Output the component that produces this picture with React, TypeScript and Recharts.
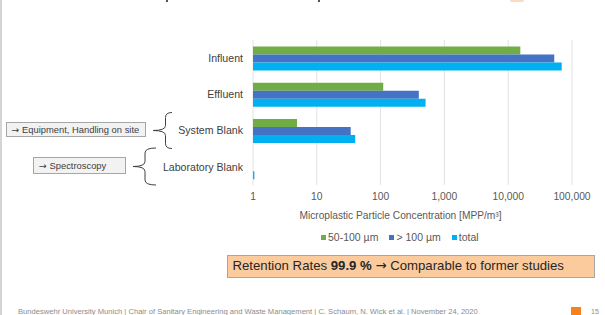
import React from 'react';
import { BarChart, Bar, XAxis, YAxis, CartesianGrid, Legend, Label } from 'recharts';

const categories = ['Influent', 'Effluent', 'System Blank', 'Laboratory Blank'];
const small = [15500, 110, 4.9, null];
const large = [52700, 397, 34, null];
const total = [69000, 507, 40, 1.05];
const tickValues = [1, 10, 100, 1000, 10000, 100000];
const seriesNames = ['50-100 µm', '> 100 µm', 'total'];
const seriesColors = ['#70ad47', '#4472c4', '#00b0f0'];

const data = categories.map((name, i) => ({
  name,
  small: small[i],
  large: large[i],
  total: total[i],
}));

const FONT = 'Liberation Sans, Arial, sans-serif';
const ARROW_FONT = 'DejaVu Sans, sans-serif';

function brace(xv: number, xt: number, xh: number, y1: number, y2: number) {
  const ym = (y1 + y2) / 2;
  const r = 5;
  return `M ${xh} ${y1} Q ${xv} ${y1} ${xv} ${y1 + r} L ${xv} ${ym - r} Q ${xv} ${ym} ${xt} ${ym} Q ${xv} ${ym} ${xv} ${ym + r} L ${xv} ${y2 - r} Q ${xv} ${y2} ${xh} ${y2}`;
}

const LegendContent = (props: any) => {
  const payload = props.payload || [];
  return (
    <div style={{ display: 'flex', alignItems: 'center', fontFamily: FONT, fontSize: 10.5, color: '#595959', whiteSpace: 'nowrap' }}>
      {payload.map((p: any, i: number) => (
        <div key={i} style={{ display: 'flex', alignItems: 'center', marginRight: 11 }}>
          <span style={{ display: 'inline-block', width: 5, height: 5, background: p.color, marginRight: 2 }} />
          <span>{p.value}</span>
        </div>
      ))}
    </div>
  );
};

const Arrow = () => <span style={{ fontFamily: ARROW_FONT }}>→</span>;

export default function App() {
  return (
    <div style={{ position: 'absolute', left: 0, top: 0, width: 605, height: 315, background: '#fff', overflow: 'hidden', fontFamily: FONT }}>
      <div style={{ position: 'absolute', left: 0, top: 0, width: 1.5, height: 315, background: '#d4d4d4' }} />
      <div style={{ position: 'absolute', left: 166, top: 0, width: 2, height: 1.5, background: '#555' }} />
      <div style={{ position: 'absolute', left: 318, top: 0, width: 2, height: 1.5, background: '#555' }} />
      <div style={{ position: 'absolute', left: 510, top: 0, width: 14, height: 2, borderRadius: '0 0 6px 6px', background: '#f8dcc0' }} />
      <div style={{ position: 'absolute', left: 0, top: 0 }}>
        <BarChart
          width={605}
          height={250}
          data={data}
          layout="vertical"
          margin={{ top: 40, right: 33, left: 0, bottom: 35 }}
          barCategoryGap="18%"
          barGap={0}
        >
          <CartesianGrid horizontal={false} stroke="#e2e2e2" />
          <XAxis
            type="number"
            scale="log"
            domain={[1, 100000]}
            ticks={tickValues}
            allowDataOverflow
            axisLine={false}
            tickLine={false}
            height={30}
            tick={{ fill: '#595959', fontSize: 10.3, fontFamily: FONT }}
            tickFormatter={(v: number) => v.toLocaleString('en-US')}
          >
            <Label
              content={(props: any) => {
                const vb = props.viewBox || {};
                return (
                  <text
                    x={vb.x + vb.width / 2 - 12}
                    y={vb.y + 34}
                    textAnchor="middle"
                    fill="#595959"
                    fontSize={10.2}
                    fontFamily={FONT}
                  >
                    Microplastic Particle Concentration [MPP/m³]
                  </text>
                );
              }}
            />
          </XAxis>
          <YAxis
            type="category"
            dataKey="name"
            width={253}
            axisLine={false}
            tickLine={false}
            tickMargin={4}
            tick={{ fill: '#404040', fontSize: 10.6, fontFamily: FONT }}
          />
          <Legend
            layout="horizontal"
            verticalAlign="middle"
            align="center"
            wrapperStyle={{ top: 231, left: 321, width: 'auto', height: 'auto' }}
            content={LegendContent}
          />
          <Bar dataKey="small" name={seriesNames[0]} fill={seriesColors[0]} isAnimationActive={false} />
          <Bar dataKey="large" name={seriesNames[1]} fill={seriesColors[1]} isAnimationActive={false} />
          <Bar dataKey="total" name={seriesNames[2]} fill={seriesColors[2]} isAnimationActive={false} />
        </BarChart>
      </div>
      <svg style={{ position: 'absolute', left: 0, top: 0 }} width={605} height={315}>
        <path d={brace(165.5, 153, 172, 112.5, 148.5)} fill="none" stroke="#404040" strokeWidth={1} />
        <path d={brace(145, 133, 156, 148, 185)} fill="none" stroke="#404040" strokeWidth={1} />
      </svg>
      <div style={{ position: 'absolute', left: 5.5, top: 122, width: 140, height: 15, boxSizing: 'border-box', background: '#f2f2f2', border: '1px solid #a6a6a6', fontSize: 9.4, color: '#404040', lineHeight: '13px', paddingLeft: 5, whiteSpace: 'nowrap' }}>
        <Arrow /> Equipment, Handling on site
      </div>
      <div style={{ position: 'absolute', left: 33, top: 157, width: 93, height: 17, boxSizing: 'border-box', background: '#f2f2f2', border: '1px solid #a6a6a6', fontSize: 9.4, color: '#404040', lineHeight: '15px', paddingLeft: 5, whiteSpace: 'nowrap' }}>
        <Arrow /> Spectroscopy
      </div>
      <div style={{ position: 'absolute', left: 226.5, top: 255, width: 368, height: 22.5, boxSizing: 'border-box', background: '#fbcb9e', border: '1px solid #a6a6a6', fontSize: 13.2, color: '#262626', lineHeight: '20px', paddingLeft: 5, whiteSpace: 'nowrap' }}>
        Retention Rates <b>99.9 %</b> <Arrow /> Comparable to former studies
      </div>
      <div style={{ position: 'absolute', left: 18, top: 308, fontSize: 7.6, color: '#8c8c8c', whiteSpace: 'nowrap', lineHeight: '8px' }}>
        Bundeswehr University Munich | Chair of Sanitary Engineering and Waste Management | C. Schaum, N. Wick et al. | November 24, 2020
      </div>
      <div style={{ position: 'absolute', left: 571, top: 306.5, width: 10, height: 9, background: '#f5821f' }} />
      <div style={{ position: 'absolute', left: 591, top: 308, fontSize: 7, color: '#8c8c8c', lineHeight: '8px' }}>15</div>
    </div>
  );
}
